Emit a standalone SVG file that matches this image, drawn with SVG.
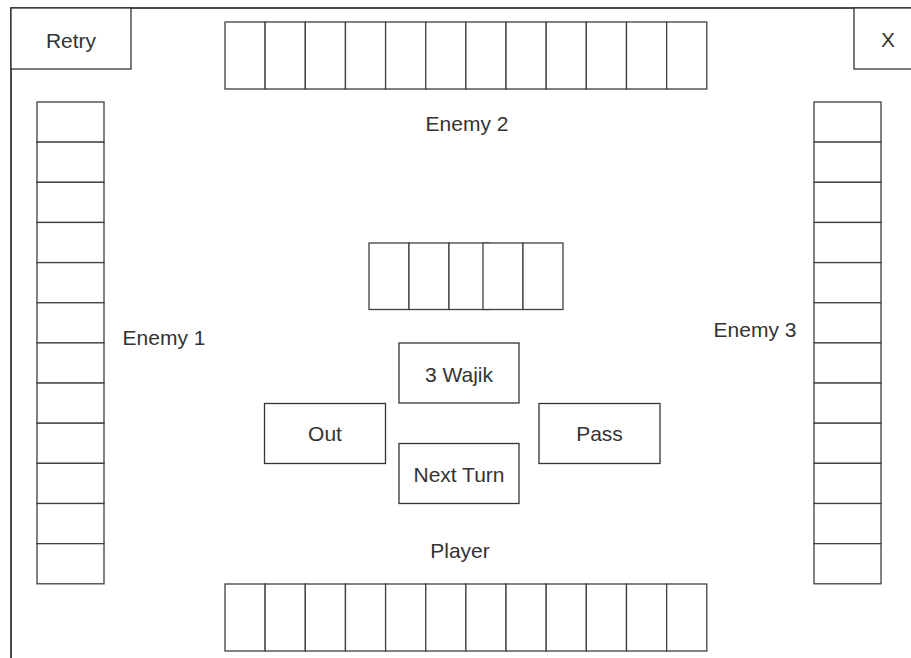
<svg xmlns="http://www.w3.org/2000/svg" width="911" height="658" viewBox="0 0 911 658">
<style>
.frame{fill:none;stroke:#000;stroke-width:1.4}
.box{fill:#fff;stroke:#333;stroke-width:1.3}
.card{fill:#fff;stroke:#404040;stroke-width:1.3}
.t{font-family:"Liberation Sans",Arial,sans-serif;font-size:21px;fill:#333;text-anchor:middle}
</style>
<rect width="911" height="658" fill="#fff"/>
<g id="frame"><rect class="frame" x="11" y="8" width="1000" height="700"/></g>
<g id="retry"><rect class="box" x="11" y="8" width="120" height="61"/><text class="t" x="71" y="48">Retry</text></g>
<g id="close"><rect class="box" x="854" y="8" width="120" height="61"/><text class="t" x="888" y="47">X</text></g>
<g id="enemy2-hand">
<rect class="card" x="225" y="22" width="40.15" height="67"/>
<rect class="card" x="265.15" y="22" width="40.15" height="67"/>
<rect class="card" x="305.3" y="22" width="40.15" height="67"/>
<rect class="card" x="345.45" y="22" width="40.15" height="67"/>
<rect class="card" x="385.6" y="22" width="40.15" height="67"/>
<rect class="card" x="425.75" y="22" width="40.15" height="67"/>
<rect class="card" x="465.9" y="22" width="40.15" height="67"/>
<rect class="card" x="506.05" y="22" width="40.15" height="67"/>
<rect class="card" x="546.2" y="22" width="40.15" height="67"/>
<rect class="card" x="586.35" y="22" width="40.15" height="67"/>
<rect class="card" x="626.5" y="22" width="40.15" height="67"/>
<rect class="card" x="666.65" y="22" width="40.15" height="67"/>
</g>
<g id="player-hand">
<rect class="card" x="225" y="584" width="40.15" height="67"/>
<rect class="card" x="265.15" y="584" width="40.15" height="67"/>
<rect class="card" x="305.3" y="584" width="40.15" height="67"/>
<rect class="card" x="345.45" y="584" width="40.15" height="67"/>
<rect class="card" x="385.6" y="584" width="40.15" height="67"/>
<rect class="card" x="425.75" y="584" width="40.15" height="67"/>
<rect class="card" x="465.9" y="584" width="40.15" height="67"/>
<rect class="card" x="506.05" y="584" width="40.15" height="67"/>
<rect class="card" x="546.2" y="584" width="40.15" height="67"/>
<rect class="card" x="586.35" y="584" width="40.15" height="67"/>
<rect class="card" x="626.5" y="584" width="40.15" height="67"/>
<rect class="card" x="666.65" y="584" width="40.15" height="67"/>
</g>
<g id="enemy1-hand">
<rect class="card" x="37" y="102" width="67" height="40.15"/>
<rect class="card" x="37" y="142.15" width="67" height="40.15"/>
<rect class="card" x="37" y="182.3" width="67" height="40.15"/>
<rect class="card" x="37" y="222.45" width="67" height="40.15"/>
<rect class="card" x="37" y="262.6" width="67" height="40.15"/>
<rect class="card" x="37" y="302.75" width="67" height="40.15"/>
<rect class="card" x="37" y="342.9" width="67" height="40.15"/>
<rect class="card" x="37" y="383.05" width="67" height="40.15"/>
<rect class="card" x="37" y="423.2" width="67" height="40.15"/>
<rect class="card" x="37" y="463.35" width="67" height="40.15"/>
<rect class="card" x="37" y="503.5" width="67" height="40.15"/>
<rect class="card" x="37" y="543.65" width="67" height="40.15"/>
</g>
<g id="enemy3-hand">
<rect class="card" x="814" y="102" width="67" height="40.15"/>
<rect class="card" x="814" y="142.15" width="67" height="40.15"/>
<rect class="card" x="814" y="182.3" width="67" height="40.15"/>
<rect class="card" x="814" y="222.45" width="67" height="40.15"/>
<rect class="card" x="814" y="262.6" width="67" height="40.15"/>
<rect class="card" x="814" y="302.75" width="67" height="40.15"/>
<rect class="card" x="814" y="342.9" width="67" height="40.15"/>
<rect class="card" x="814" y="383.05" width="67" height="40.15"/>
<rect class="card" x="814" y="423.2" width="67" height="40.15"/>
<rect class="card" x="814" y="463.35" width="67" height="40.15"/>
<rect class="card" x="814" y="503.5" width="67" height="40.15"/>
<rect class="card" x="814" y="543.65" width="67" height="40.15"/>
</g>
<g id="table-cards">
<rect class="card" x="369" y="243" width="40" height="66.5"/>
<rect class="card" x="409" y="243" width="40" height="66.5"/>
<rect class="card" x="449" y="243" width="40" height="66.5"/>
<rect class="card" x="483" y="243" width="40" height="66.5"/>
<rect class="card" x="523" y="243" width="40" height="66.5"/>
</g>
<g id="labels">
<text class="t" x="467" y="131">Enemy 2</text>
<text class="t" x="164" y="345">Enemy 1</text>
<text class="t" x="755" y="337">Enemy 3</text>
<text class="t" x="460" y="558">Player</text>
</g>
<g id="card-label"><rect class="box" x="399" y="343" width="120" height="60"/><text class="t" x="459" y="382">3 Wajik</text></g>
<g id="out"><rect class="box" x="264.5" y="403.5" width="121" height="60"/><text class="t" x="325" y="441">Out</text></g>
<g id="next-turn"><rect class="box" x="399" y="443.5" width="120" height="60"/><text class="t" x="459" y="482">Next Turn</text></g>
<g id="pass"><rect class="box" x="539" y="403.5" width="121" height="60"/><text class="t" x="599.5" y="441">Pass</text></g>
<g id="connectors"/>
</svg>
